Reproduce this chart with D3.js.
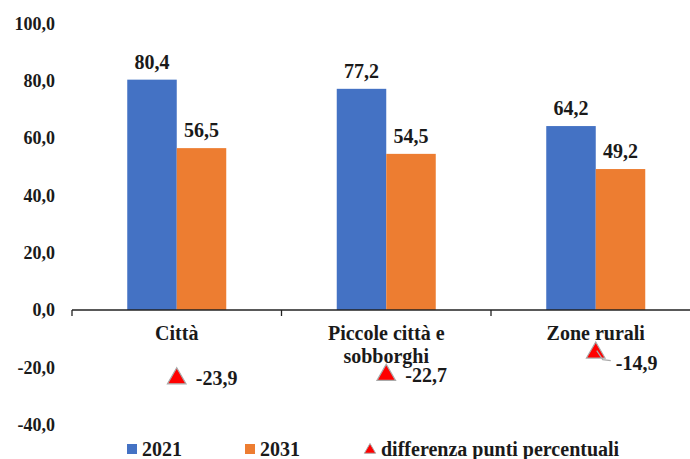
<!DOCTYPE html>
<html>
<head>
<meta charset="utf-8">
<script src="https://cdn.jsdelivr.net/npm/d3@7"></script>
<style>
  body { margin: 0; background: #fff; }
</style>
</head>
<body>
<script>
// data
var categories = ["Città", "Piccole città e\nsobborghi", "Zone rurali"];
var values2021 = [80.4, 77.2, 64.2];
var values2031 = [56.5, 54.5, 49.2];
var differences = [-23.9, -22.7, -14.9];
var yTicks = [-40, -20, 0, 20, 40, 60, 80, 100];
var seriesNames = ["2021", "2031", "differenza punti percentuali"];

var W = 690, H = 459;
var colors = { a: "#4472C4", b: "#ED7D31", tri: "#FF0000" };
var FONT = "'Liberation Serif', 'DejaVu Serif', serif";

var svg = d3.select("body").append("svg")
    .attr("width", W)
    .attr("height", H)
    .style("font-family", FONT)
    .style("font-weight", "bold");

// scales
var x = d3.scaleBand().domain(categories).range([72, 700.5]).paddingInner(0).paddingOuter(0);
var y = d3.scaleLinear().domain([-40, 100]).range([424.6, 23.5]);
var barW = 49.5;

var fmt = function(v) { return d3.format(".1f")(v).replace(".", ",").replace("−", "-"); };

// y tick labels (no axis line)
svg.selectAll(".ylab")
    .data(yTicks)
    .enter().append("text")
    .attr("class", "ylab")
    .attr("x", 55)
    .attr("y", function(d) { return y(d); })
    .attr("dy", "0.35em")
    .attr("text-anchor", "end")
    .attr("fill", "#1a1a1a")
    .style("font-size", "18px")
    .text(fmt);

// bars
var groups = svg.selectAll(".cat")
    .data(categories)
    .enter().append("g")
    .attr("class", "cat");

groups.append("rect")
    .attr("x", function(d) { return x(d) + x.bandwidth() / 2 - barW; })
    .attr("y", function(d, i) { return y(values2021[i]); })
    .attr("width", barW)
    .attr("height", function(d, i) { return y(0) - y(values2021[i]); })
    .attr("fill", colors.a);

groups.append("rect")
    .attr("x", function(d) { return x(d) + x.bandwidth() / 2; })
    .attr("y", function(d, i) { return y(values2031[i]); })
    .attr("width", barW)
    .attr("height", function(d, i) { return y(0) - y(values2031[i]); })
    .attr("fill", colors.b);

// value labels
groups.append("text")
    .attr("x", function(d) { return x(d) + x.bandwidth() / 2 - barW / 2; })
    .attr("y", function(d, i) { return y(values2021[i]) - 11; })
    .attr("text-anchor", "middle")
    .attr("fill", "#1a1a1a")
    .style("font-size", "20px")
    .text(function(d, i) { return fmt(values2021[i]); });

groups.append("text")
    .attr("x", function(d) { return x(d) + x.bandwidth() / 2 + barW / 2; })
    .attr("y", function(d, i) { return y(values2031[i]) - 11; })
    .attr("text-anchor", "middle")
    .attr("fill", "#1a1a1a")
    .style("font-size", "20px")
    .text(function(d, i) { return fmt(values2031[i]); });

// x axis at zero
var xAxis = svg.append("g")
    .attr("transform", "translate(0," + y(0) + ")");
xAxis.append("line")
    .attr("x1", 72).attr("x2", 700)
    .attr("stroke", "#222").attr("stroke-width", 1.3);
xAxis.selectAll(".tick")
    .data(categories.concat(["end"]))
    .enter().append("line")
    .attr("x1", function(d, i) { return 72 + i * x.bandwidth(); })
    .attr("x2", function(d, i) { return 72 + i * x.bandwidth(); })
    .attr("y1", 0).attr("y2", 6)
    .attr("stroke", "#222").attr("stroke-width", 1.3);

// category labels
groups.append("text")
    .attr("text-anchor", "middle")
    .attr("fill", "#1a1a1a")
    .attr("transform", function(d) { return "translate(" + (x(d) + x.bandwidth() / 2) + "," + (y(0) + 30) + ")"; })
    .style("font-size", "20px")
    .selectAll("tspan")
    .data(function(d) { return d.split("\n"); })
    .enter().append("tspan")
    .attr("x", 0)
    .attr("dy", function(d, i) { return i === 0 ? 0 : 23; })
    .text(function(d) { return d; });

// difference triangles
var tri = d3.symbol().type(d3.symbolTriangle).size(150);
groups.append("path")
    .attr("d", tri)
    .attr("transform", function(d, i) { return "translate(" + (x(d) + x.bandwidth() / 2) + "," + y(differences[i]) + ")"; })
    .attr("fill", colors.tri)
    .attr("stroke", "#aaa")
    .attr("stroke-width", 1.2);

// leader line for the last label, which is pushed off the point
var zx = x(categories[2]) + x.bandwidth() / 2, zy = y(differences[2]);
svg.append("polyline")
    .attr("points", [[zx + 1, zy - 2], [zx + 7, zy + 7], [zx + 15, zy + 8]].join(" "))
    .attr("fill", "none")
    .attr("stroke", "#aaa").attr("stroke-width", 1.2);

groups.append("text")
    .attr("x", function(d, i) { return x(d) + x.bandwidth() / 2 + (i === 2 ? 20 : 19); })
    .attr("y", function(d, i) { return y(differences[i]) + (i === 2 ? 10 : 0); })
    .attr("dy", "0.35em")
    .attr("fill", "#1a1a1a")
    .style("font-size", "20px")
    .text(function(d, i) { return fmt(differences[i]); });

// legend
var legend = svg.append("g").attr("transform", "translate(0,449)");
var legX = [127, 245, 364];
seriesNames.forEach(function(name, i) {
    if (i < 2) {
        legend.append("rect")
            .attr("x", legX[i]).attr("y", -5)
            .attr("width", 10).attr("height", 10)
            .attr("fill", i === 0 ? colors.a : colors.b);
    } else {
        legend.append("path")
            .attr("d", d3.symbol().type(d3.symbolTriangle).size(55))
            .attr("transform", "translate(" + (legX[i] + 6) + ",1)")
            .attr("fill", colors.tri)
            .attr("stroke", "#aaa");
    }
    legend.append("text")
        .attr("x", legX[i] + (i < 2 ? 15 : 17))
        .attr("y", 0)
        .attr("dy", "0.35em")
        .attr("fill", "#1a1a1a")
        .style("font-size", "20px")
        .text(name);
});
</script>
</body>
</html>
